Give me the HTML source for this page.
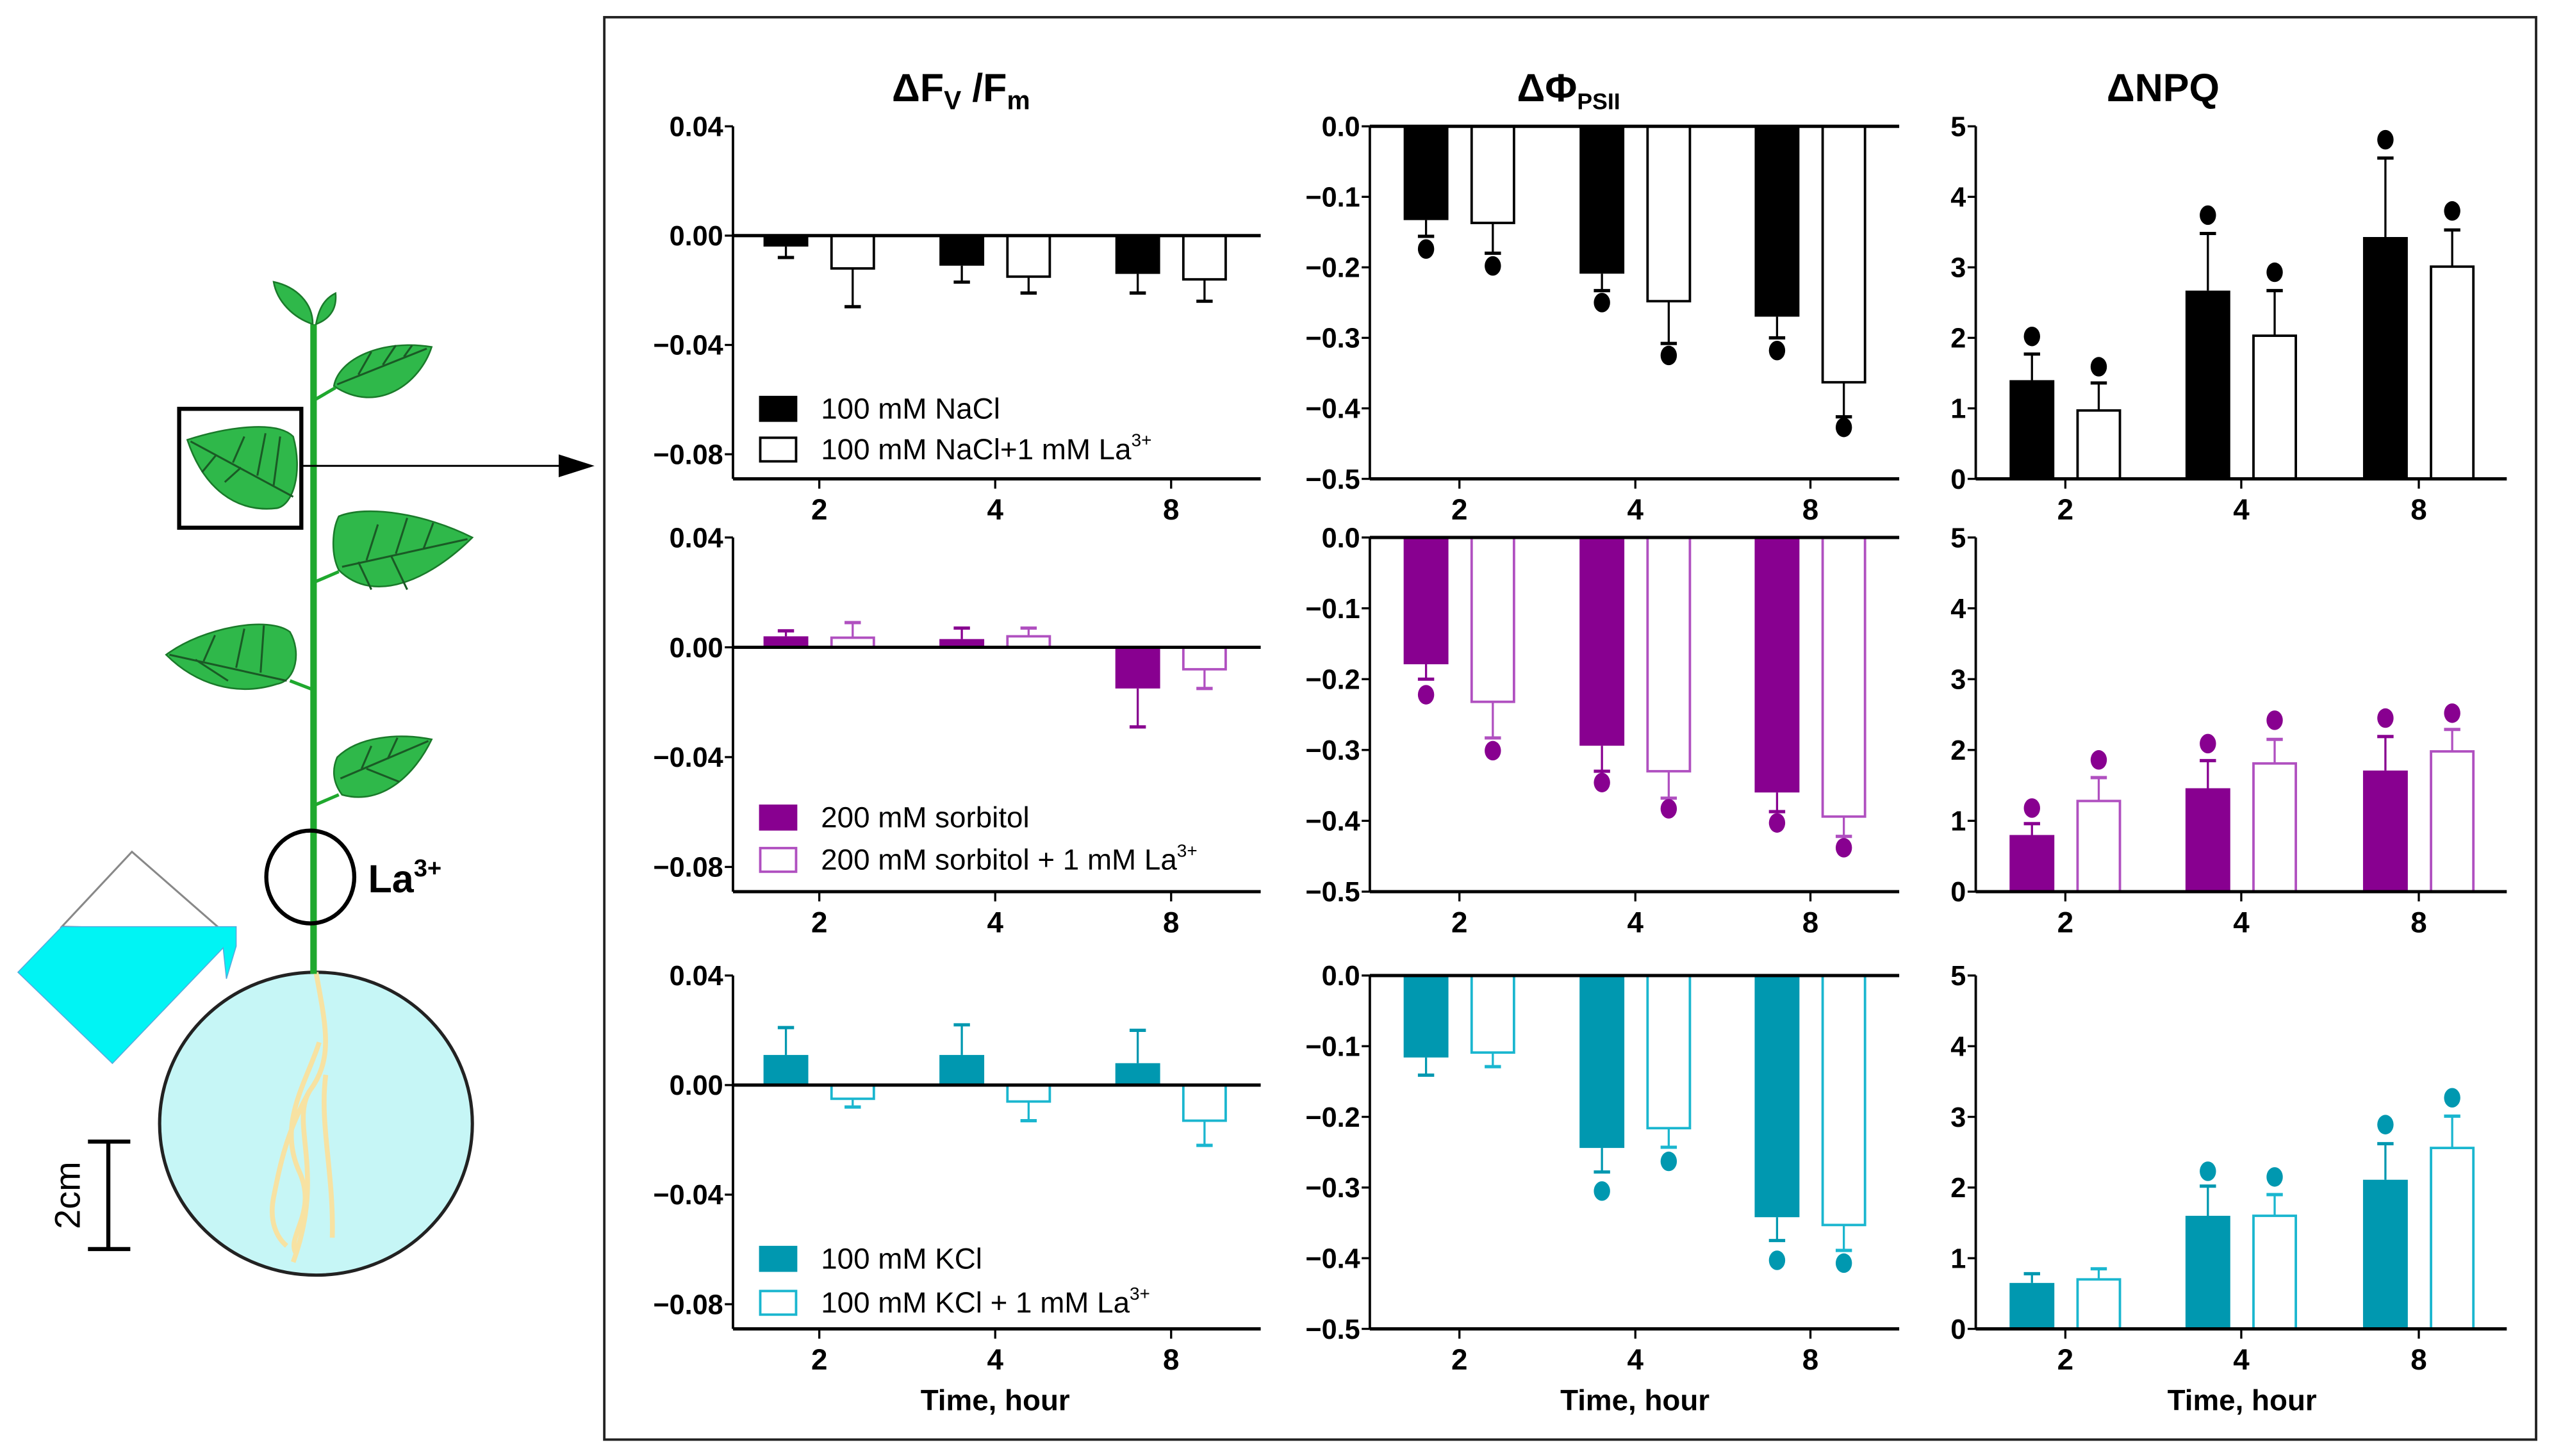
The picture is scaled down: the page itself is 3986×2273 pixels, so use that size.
<!DOCTYPE html>
<html><head><meta charset="utf-8"><style>
html,body{margin:0;padding:0;background:#fff}
svg{display:block}
text{font-family:"Liberation Sans",Arial,sans-serif}
</style></head><body>
<svg id="fig" width="3986" height="2273" viewBox="0 0 1568 894" xmlns="http://www.w3.org/2000/svg">
<g>
  <polygon points="38,569 81,523 137,572" fill="#fff" stroke="#888" stroke-width="1.2"/>
  <polygon points="11,597 38,569 145,569 145,581 139,601 137,582 69,653" fill="#00f4f4" stroke="#5ad" stroke-width="0.6"/>
  <ellipse cx="194" cy="690" rx="96" ry="93" fill="#c6f6f6" stroke="#222" stroke-width="2"/>
  <g fill="none" stroke="#f7e2a2" stroke-width="3">
    <path d="M194,597 C200,630 205,650 190,670 C178,690 200,720 180,775"/>
    <path d="M196,640 C188,665 170,690 184,720 C195,745 175,760 182,770"/>
    <path d="M190,670 C176,695 172,715 168,735 C165,750 170,760 176,765"/>
    <path d="M200,660 C196,690 205,720 204,760"/>
  </g>
  <rect x="190.5" y="199" width="4" height="399" fill="#1fa82e"/>
  <g fill="#2fb84a" stroke="#1a7a2a" stroke-width="1">
    <path d="M192,199 C180,195 170,185 168,173 C182,176 192,186 192,199Z"/>
    <path d="M194,199 C196,188 200,183 206,180 C207,190 202,196 194,199Z"/>
    <path d="M205,237 C208,220 235,208 265,213 C258,235 232,255 205,237Z"/>
    <line x1="194" y1="245" x2="206" y2="238" stroke="#1fa82e" stroke-width="2"/>
    <path d="M115,270 C140,262 170,258 180,268 C186,290 180,310 170,312 C145,315 125,300 115,270Z"/>
    <path d="M208,317 C225,310 260,315 290,330 C265,355 230,372 208,350 C203,340 204,325 208,317Z"/>
    <line x1="194" y1="357" x2="208" y2="351" stroke="#1fa82e" stroke-width="2"/>
    <path d="M102,402 C125,385 165,378 178,388 C185,400 182,418 170,420 C145,428 120,420 102,402Z"/>
    <line x1="178" y1="418" x2="191" y2="423" stroke="#1fa82e" stroke-width="2"/>
    <path d="M207,465 C220,452 245,450 265,454 C255,475 235,495 210,488 C204,480 204,472 207,465Z"/>
    <line x1="194" y1="494" x2="208" y2="488" stroke="#1fa82e" stroke-width="2"/>
  </g>
  <g stroke="#1a5a25" stroke-width="1.2" fill="none">
    <path d="M207,236 L262,214 M220,230 L228,216 M235,224 L243,212 M248,219 L253,212"/>
    <path d="M117,271 L180,305 M133,279 L124,290 M148,287 L138,296 M143,284 L150,268 M158,292 L163,266 M168,298 L172,268"/>
    <path d="M210,348 L287,331 M225,344 L232,322 M243,340 L250,318 M260,337 L266,321 M220,345 L228,362 M240,341 L250,362"/>
    <path d="M104,402 L176,418 M125,406 L132,390 M145,410 L150,386 M160,413 L162,384 M120,405 L140,418"/>
    <path d="M209,478 L263,455 M222,472 L228,458 M238,466 L244,453 M225,472 L245,480"/>
  </g>
  <rect x="110" y="251" width="75" height="73" fill="none" stroke="#000" stroke-width="2.5"/>
  <line x1="186" y1="286" x2="345" y2="286" stroke="#000" stroke-width="1.2"/>
  <polygon points="343,279 365,286 343,293" fill="#000"/>
  <ellipse cx="190.5" cy="538.5" rx="27" ry="28.5" fill="none" stroke="#000" stroke-width="2.5"/>
  <text x="226" y="548" font-size="24" font-weight="bold">La<tspan font-size="15" dy="-10">3+</tspan></text>
  <g stroke="#000" stroke-width="2.5">
    <line x1="66.5" y1="701" x2="66.5" y2="767"/><line x1="54" y1="701" x2="80" y2="701"/><line x1="54" y1="767" x2="80" y2="767"/>
  </g>
  <text transform="translate(49,734) rotate(-90)" text-anchor="middle" font-size="22">2cm</text>
</g>
<rect x="371" y="10.5" width="1186" height="873.5" fill="none" stroke="#222" stroke-width="1.5"/>
<g font-weight="bold" font-size="24" text-anchor="middle">
  <text x="590" y="62">ΔF<tspan font-size="16" dy="5">V</tspan><tspan dy="-5"> /F</tspan><tspan font-size="16" dy="5">m</tspan></text>
  <text x="963" y="62">ΔΦ<tspan font-size="14" dy="5">PSII</tspan></text>
  <text x="1328" y="62">ΔNPQ</text>
</g>
<g id="charts"></g>
</svg>
<script>
// categories and tick labels
const timeLabels = ["2","4","8"];
const fvTicks = [0.04, 0, -0.04, -0.08];
const fvTickLabels = ["0.04","0.00","\u22120.04","\u22120.08"];
const phiTicks = [0, -0.1, -0.2, -0.3, -0.4, -0.5];
const phiTickLabels = ["0.0","\u22120.1","\u22120.2","\u22120.3","\u22120.4","\u22120.5"];
const npqTicks = [0,1,2,3,4,5];
const npqTickLabels = ["0","1","2","3","4","5"];
// NaCl row
const naclFvMean = [-0.004, -0.011, -0.014];
const naclFvErr = [-0.008, -0.017, -0.021];
const naclLaFvMean = [-0.012, -0.015, -0.016];
const naclLaFvErr = [-0.026, -0.021, -0.024];
const naclPhiMean = [-0.133, -0.209, -0.270];
const naclPhiErr = [-0.156, -0.233, -0.300];
const naclPhiDot = [-0.174, -0.250, -0.318];
const naclLaPhiMean = [-0.137, -0.248, -0.363];
const naclLaPhiErr = [-0.180, -0.308, -0.412];
const naclLaPhiDot = [-0.198, -0.325, -0.427];
const naclNpqMean = [1.40, 2.67, 3.43];
const naclNpqErr = [1.77, 3.48, 4.55];
const naclNpqDot = [2.02, 3.74, 4.81];
const naclLaNpqMean = [0.97, 2.03, 3.01];
const naclLaNpqErr = [1.36, 2.67, 3.53];
const naclLaNpqDot = [1.59, 2.93, 3.80];
// sorbitol row
const sorbFvMean = [0.004, 0.003, -0.015];
const sorbFvErr = [0.006, 0.007, -0.029];
const sorbLaFvMean = [0.0035, 0.004, -0.008];
const sorbLaFvErr = [0.009, 0.007, -0.015];
const sorbPhiMean = [-0.179, -0.294, -0.360];
const sorbPhiErr = [-0.200, -0.330, -0.387];
const sorbPhiDot = [-0.222, -0.346, -0.403];
const sorbLaPhiMean = [-0.232, -0.330, -0.394];
const sorbLaPhiErr = [-0.283, -0.368, -0.422];
const sorbLaPhiDot = [-0.301, -0.383, -0.438];
const sorbNpqMean = [0.80, 1.46, 1.71];
const sorbNpqErr = [0.96, 1.85, 2.19];
const sorbNpqDot = [1.18, 2.09, 2.45];
const sorbLaNpqMean = [1.28, 1.81, 1.98];
const sorbLaNpqErr = [1.61, 2.15, 2.29];
const sorbLaNpqDot = [1.86, 2.42, 2.52];
// KCl row
const kclFvMean = [0.011, 0.011, 0.008];
const kclFvErr = [0.021, 0.022, 0.020];
const kclLaFvMean = [-0.005, -0.006, -0.013];
const kclLaFvErr = [-0.008, -0.013, -0.022];
const kclPhiMean = [-0.116, -0.244, -0.342];
const kclPhiErr = [-0.141, -0.278, -0.375];
const kclPhiDot = [null, -0.305, -0.403];
const kclLaPhiMean = [-0.109, -0.216, -0.353];
const kclLaPhiErr = [-0.129, -0.243, -0.389];
const kclLaPhiDot = [null, -0.263, -0.407];
const kclNpqMean = [0.65, 1.60, 2.11];
const kclNpqErr = [0.78, 2.02, 2.62];
const kclNpqDot = [null, 2.23, 2.89];
const kclLaNpqMean = [0.70, 1.60, 2.56];
const kclLaNpqErr = [0.85, 1.90, 3.01];
const kclLaNpqDot = [null, 2.15, 3.27];

const NS = "http://www.w3.org/2000/svg";
const root = document.getElementById("charts");
function mk(tag, attrs, parent){ const e = document.createElementNS(NS, tag); for (const k in attrs) e.setAttribute(k, attrs[k]); (parent||root).appendChild(e); return e; }

const rows = [
  {T:77.5, B:294, solid:"#000", open:"#000", name:"nacl", legend:["100 mM NaCl","100 mM NaCl+1 mM La"], ly:[243,268],
   fv:[naclFvMean,naclFvErr,naclLaFvMean,naclLaFvErr], phi:[naclPhiMean,naclPhiErr,naclPhiDot,naclLaPhiMean,naclLaPhiErr,naclLaPhiDot], npq:[naclNpqMean,naclNpqErr,naclNpqDot,naclLaNpqMean,naclLaNpqErr,naclLaNpqDot]},
  {T:330, B:547.5, solid:"#880090", open:"#b050c0", name:"sorbitol", legend:["200 mM sorbitol","200 mM sorbitol + 1 mM La"], ly:[494,520],
   fv:[sorbFvMean,sorbFvErr,sorbLaFvMean,sorbLaFvErr], phi:[sorbPhiMean,sorbPhiErr,sorbPhiDot,sorbLaPhiMean,sorbLaPhiErr,sorbLaPhiDot], npq:[sorbNpqMean,sorbNpqErr,sorbNpqDot,sorbLaNpqMean,sorbLaNpqErr,sorbLaNpqDot]},
  {T:599, B:816, solid:"#0098b0", open:"#1ab6cf", name:"kcl", legend:["100 mM KCl","100 mM KCl + 1 mM La"], ly:[765,792],
   fv:[kclFvMean,kclFvErr,kclLaFvMean,kclLaFvErr], phi:[kclPhiMean,kclPhiErr,kclPhiDot,kclLaPhiMean,kclLaPhiErr,kclLaPhiDot], npq:[kclNpqMean,kclNpqErr,kclNpqDot,kclLaNpqMean,kclLaNpqErr,kclLaNpqDot]}
];
const cols = [
  {key:"fv", ax:450, end:774, ticks:[503,611,719], dmax:0.04, dmin:-0.089, tv:fvTicks, tl:fvTickLabels},
  {key:"phi", ax:841, end:1166, ticks:[896,1004,1111.5], dmax:0, dmin:-0.5, tv:phiTicks, tl:phiTickLabels},
  {key:"npq", ax:1213, end:1539, ticks:[1268,1376,1485], dmax:5, dmin:0, tv:npqTicks, tl:npqTickLabels}
];
const BW = 27.5, OFF = 20.5;

rows.forEach((r, ri) => {
  cols.forEach((c, ci) => {
    const g = mk("g", {});
    
    
    const y = v => r.T + (c.dmax - v) / (c.dmax - c.dmin) * (r.B - r.T);
    const y0 = y(0);
    const d = r[c.key];
    const series = c.key === "fv" ? [[d[0],d[1],null,true],[d[2],d[3],null,false]] : [[d[0],d[1],d[2],true],[d[3],d[4],d[5],false]];
    series.forEach((s, si) => {
      const [mean, err, dot, filled] = s;
      const color = filled ? r.solid : r.open;
      timeLabels.forEach((t, i) => {
        const cx = c.ticks[i] + (si === 0 ? -OFF : OFF);
        const ym = y(mean[i]);
        const top = Math.min(ym, y0), h = Math.abs(ym - y0);
        const ye = y(err[i]);
        const el = mk("line", {x1:cx, x2:cx, y1:ym, y2:ye, stroke:color, "stroke-width":1.3}, g);
        
        
        const cap = mk("line", {x1:cx-5, x2:cx+5, y1:ye, y2:ye, stroke:color, "stroke-width":2}, g);
        
        
        const b = mk("rect", {x:cx-BW/2+(filled?0:0.75), y:top, width:BW-(filled?0:1.5), height:h, fill:filled?color:"#fff", stroke:color, "stroke-width":filled?0:1.5}, g);
        
        
        if (dot && dot[i] !== null) {
          const dt = mk("ellipse", {cx:cx, cy:y(dot[i]), rx:5, ry:6, fill:r.solid}, g);
          
          
        }
      });
    });
    const ya = mk("line", {x1:c.ax, x2:c.ax, y1:r.T, y2:r.B, stroke:"#000", "stroke-width":1.5}, g);
    
    
    const xa = mk("line", {x1:c.ax, x2:c.end, y1:r.B, y2:r.B, stroke:"#000", "stroke-width":2}, g);
    
    
    if (y0 < r.B - 1) {
      const zl = mk("line", {x1:c.ax, x2:c.end, y1:y0, y2:y0, stroke:"#000", "stroke-width":2}, g);
      
      
    }
    c.tv.forEach((v, k) => {
      const ty = y(v);
      const tk = mk("line", {x1:c.ax-5, x2:c.ax, y1:ty, y2:ty, stroke:"#000", "stroke-width":1.3}, g);
      
      
      const tl = mk("text", {x:c.ax-6, y:ty+6, "text-anchor":"end", "font-size":17, "font-weight":"bold"}, g);
      tl.textContent = c.tl[k];
      
      
    });
    timeLabels.forEach((t, i) => {
      const tk = mk("line", {x1:c.ticks[i], x2:c.ticks[i], y1:r.B, y2:r.B+6, stroke:"#000", "stroke-width":1.3}, g);
      
      
      const tl = mk("text", {x:c.ticks[i], y:r.B+25, "text-anchor":"middle", "font-size":18, "font-weight":"bold"}, g);
      tl.textContent = t;
      
      
    });
    if (ri === 2) {
      const xt = mk("text", {x:(c.ticks[0]+c.ticks[2])/2, y:866, "text-anchor":"middle", "font-size":18, "font-weight":"bold"}, g);
      xt.textContent = "Time, hour";
      
      
    }
    if (ci === 0) {
      r.legend.forEach((lab, k) => {
        const lx = 466, ly = r.ly[k];
        const sq = mk("rect", {x:lx+0.75, y:ly+0.75, width:22, height:14.5, fill:k===0?r.solid:"#fff", stroke:k===0?r.solid:r.open, "stroke-width":1.5}, g);
        
        
        const lt = mk("text", {x:lx+38, y:ly+14, "font-size":18}, g);
        lt.textContent = lab;
        if (k === 1) { const sp = mk("tspan", {"font-size":11, dy:-8}, lt); sp.textContent = "3+"; }
        
        
      });
    }
  });
});
</script>
</body></html>
